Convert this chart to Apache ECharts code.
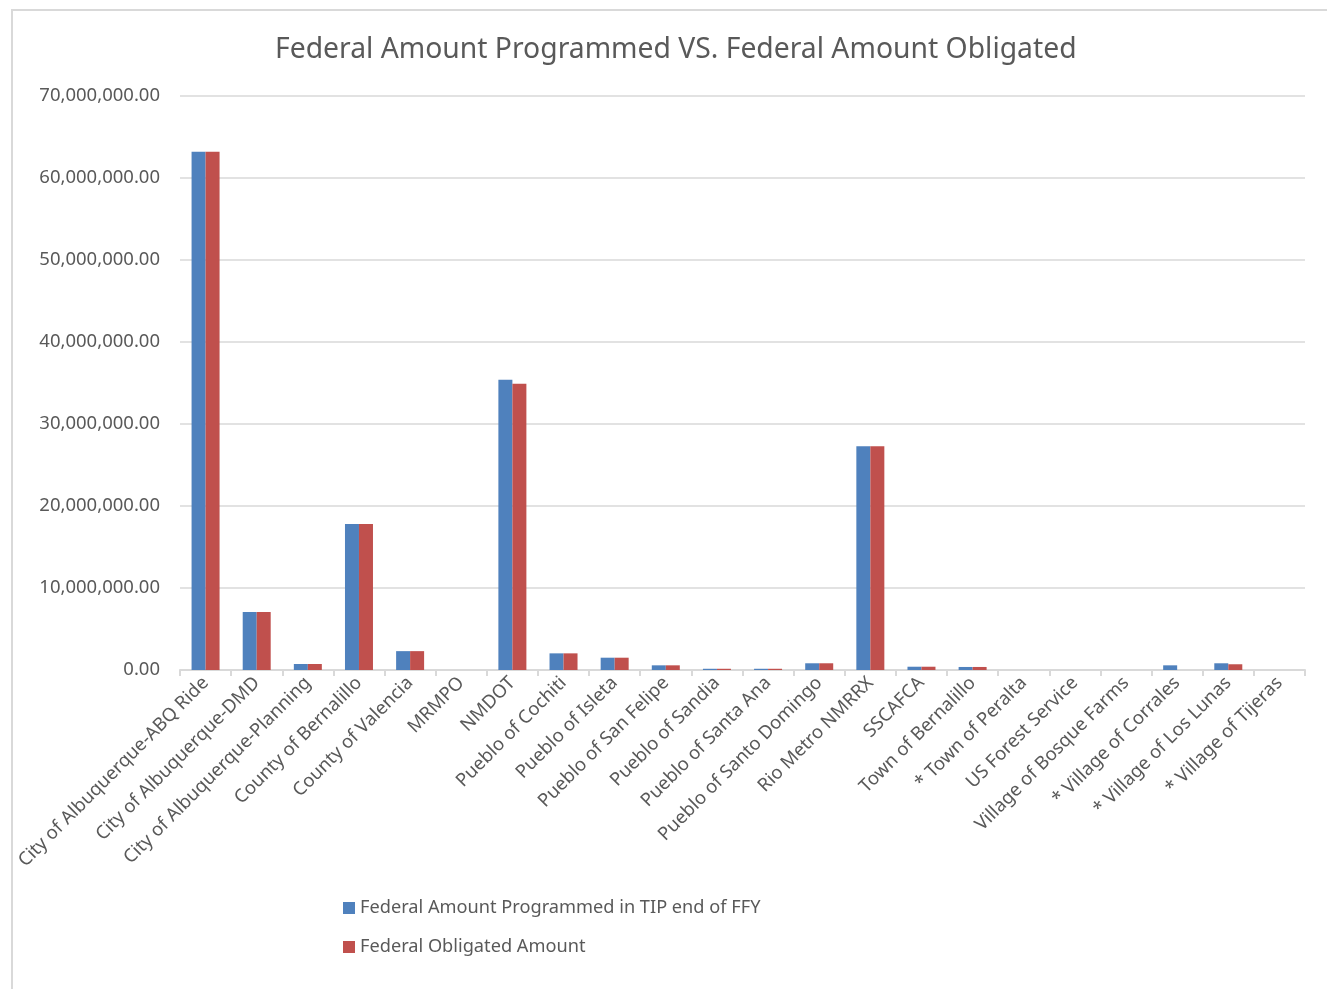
<!DOCTYPE html>
<html>
<head>
<meta charset="utf-8">
<script src="https://cdn.jsdelivr.net/npm/echarts@6/dist/echarts.min.js"></script>
<style>
    html, body { margin: 0; padding: 0; background: #fff; }
    #frame {
        position: absolute; left: 11px; top: 9px; width: 1330px; height: 990px;
        border-left: 2px solid #d9d9d9; border-top: 2px solid #d9d9d9;
    }
    #chart { position: absolute; left: 0; top: 0; width: 1327px; height: 989px; }
</style>
</head>
<body>
<div id="frame"></div>
<div id="chart"></div>
<script>
const categories = [
    'City of Albuquerque-ABQ Ride', 'City of Albuquerque-DMD', 'City of Albuquerque-Planning',
    'County of Bernalillo', 'County of Valencia', 'MRMPO', 'NMDOT', 'Pueblo of Cochiti',
    'Pueblo of Isleta', 'Pueblo of San Felipe', 'Pueblo of Sandia', 'Pueblo of Santa Ana',
    'Pueblo of Santo Domingo', 'Rio Metro NMRRX', 'SSCAFCA', 'Town of Bernalillo',
    '* Town of Peralta', 'US Forest Service', 'Village of Bosque Farms', '* Village of Corrales',
    '* Village of Los Lunas', '* Village of Tijeras'
];

// federal amount programmed in TIP end of FFY
const programmed = [
    63200000, 7070000, 730000, 17800000, 2300000, 0, 35400000, 2030000,
    1500000, 570000, 150000, 150000, 820000, 27300000, 400000, 370000,
    0, 0, 0, 570000, 820000, 0
];

// federal obligated amount
const obligated = [
    63200000, 7070000, 730000, 17800000, 2300000, 0, 34900000, 2030000,
    1500000, 570000, 150000, 150000, 820000, 27300000, 400000, 370000,
    0, 0, 0, 0, 700000, 0
];

const seriesNames = ['Federal Amount Programmed in TIP end of FFY', 'Federal Obligated Amount'];

const font = 'Noto Sans';
const grey = '#595959';

function fmt(v) {
    return v.toLocaleString('en-US', { minimumFractionDigits: 2, maximumFractionDigits: 2 });
}

const myChart = echarts.init(document.getElementById('chart'));
const option = {
    animation: false,
    title: {
        text: 'Federal Amount Programmed VS. Federal Amount Obligated',
        left: 270,
        top: 31,
        textStyle: { fontFamily: font, fontSize: 28.3, fontWeight: 'normal', color: grey }
    },
    legend: {
        orient: 'vertical',
        left: 338,
        top: 894,
        itemWidth: 12,
        itemHeight: 12,
        itemGap: 21,
        icon: 'rect',
        textStyle: { fontFamily: font, fontSize: 18.2, color: grey },
        data: seriesNames
    },
    grid: { left: 180, right: 22, top: 96, bottom: 319, containLabel: false },
    xAxis: {
        type: 'category',
        data: categories,
        axisLine: { lineStyle: { color: '#d9d9d9', width: 2 } },
        axisTick: { show: true, length: 6, lineStyle: { color: '#d9d9d9', width: 2 } },
        axisLabel: {
            interval: 0,
            rotate: 45,
            margin: 10,
            fontFamily: font,
            fontSize: 18.5,
            color: grey
        }
    },
    yAxis: {
        type: 'value',
        min: 0,
        max: 70000000,
        interval: 10000000,
        axisLine: { show: false },
        axisTick: { show: false },
        splitLine: { lineStyle: { color: '#d9d9d9', width: 1.5 } },
        axisLabel: {
            margin: 20,
            fontFamily: font,
            fontSize: 18.5,
            color: grey,
            formatter: fmt
        }
    },
    series: [
        {
            name: seriesNames[0],
            type: 'bar',
            data: programmed,
            barWidth: 14,
            barGap: '0%',
            itemStyle: { color: '#4f81bd' }
        },
        {
            name: seriesNames[1],
            type: 'bar',
            data: obligated,
            barWidth: 14,
            barGap: '0%',
            itemStyle: { color: '#c0504d' }
        }
    ]
};
myChart.setOption(option);
</script>
</body>
</html>
